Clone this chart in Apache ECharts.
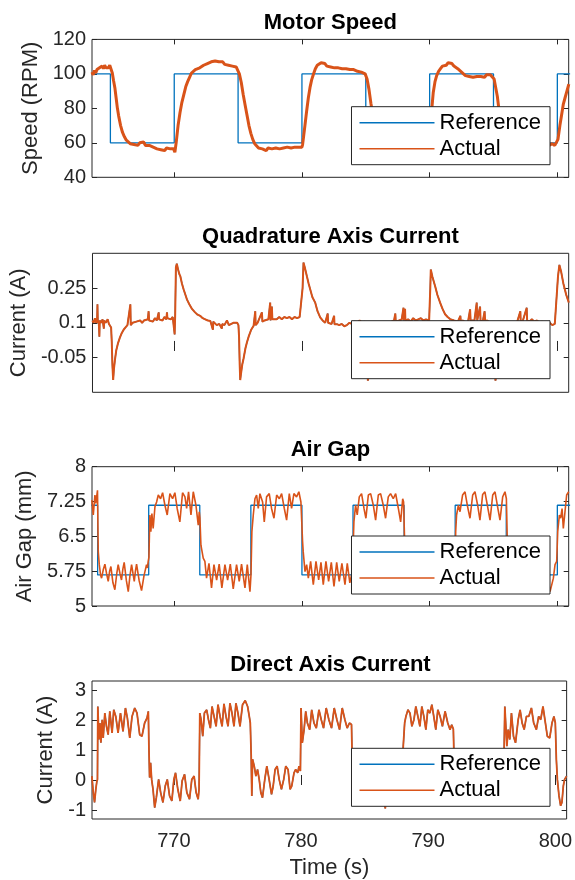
<!DOCTYPE html>
<html><head><meta charset="utf-8">
<script src="https://cdn.jsdelivr.net/npm/echarts@6/dist/echarts.min.js"></script>
<style>html,body{margin:0;padding:0;background:#fff}#c{width:575px;height:880px}</style>
</head><body><div id="c"></div>
<script>
// ---------- tick labels ----------
const timeTicks = [770, 780, 790, 800];
const speedTicks = [40, 60, 80, 100, 120];
const qTicks = [-0.05, 0.1, 0.25];
const gapTicks = [5, 5.75, 6.5, 7.25, 8];
const dTicks = [-1, 0, 1, 2, 3];
const seriesNames = ['Reference', 'Actual'];
const panelTitles = ['Motor Speed', 'Quadrature Axis Current', 'Air Gap', 'Direct Axis Current'];
const yNames = ['Speed (RPM)', 'Current (A)', 'Air Gap (mm)', 'Current (A)'];

// ---------- Motor speed ----------
const speedRefTimes = [763.5, 765, 770, 775, 780, 785, 790, 795, 800, 801];
const speedRefLevels = [100, 60, 100, 60, 100, 60, 100, 60, 100, 100];
const speedActual = [
[763.55,101],[763.65,99.5],[763.75,102],[763.85,100.5],[763.95,102.5],[764.05,101.5],[764.15,103.5],[764.25,102.5],[764.35,104.5],[764.45,103],[764.55,105],[764.65,103.5],[764.75,104.5],[764.85,103.5],[764.95,105],[765.05,104],
[765.15,100.5],[765.25,96],[765.35,92],[765.45,86],[765.55,80],[765.65,75.5],[765.8,70],[765.95,66],[766.1,63.5],[766.25,61.5],[766.4,60.5],[766.55,59.5],[766.7,60.5],[766.85,59],[767.0,60],[767.15,58.5],[767.3,60],[767.45,59],[767.6,60.5],[767.75,58.5],[767.9,59.5],[768.05,58.5],[768.2,59],[768.35,57.5],[768.5,58.5],[768.65,56.5],[768.8,57.5],[768.95,56],[769.1,57],[769.25,55.5],[769.4,57],[769.55,56],[769.7,56.5],[769.85,55.5],[769.95,56.5],[770.05,54.5],
[770.15,60],[770.3,70],[770.45,77.5],[770.6,83.5],[770.75,88],[770.9,92.5],[771.05,95.5],[771.2,98],[771.35,100.5],[771.5,101],[771.65,102.5],[771.8,102],[772.0,103.5],[772.15,103],[772.3,105],[772.45,104.5],[772.6,106],[772.75,105.5],[772.9,107],[773.05,106],[773.2,107.5],[773.35,106.5],[773.5,107],[773.65,106],[773.8,107],[773.95,105.5],[774.1,106.5],[774.25,105],[774.4,106],[774.55,104.5],[774.7,105.5],[774.85,104],[774.95,104.5],
[775.1,100],[775.25,95],[775.4,88],[775.55,82],[775.7,76],[775.85,70],[776.0,65.5],[776.15,62],[776.3,59.5],[776.45,58.5],[776.6,57],[776.75,58],[776.9,56.5],[777.05,57.5],[777.2,55.5],[777.35,57],[777.5,56],[777.65,56.5],[777.8,55.5],[777.95,57],[778.1,56],[778.25,56.5],[778.4,55.5],[778.55,57],[778.7,56],[778.85,57.5],[779.0,56.5],[779.15,57],[779.3,56],[779.45,57.5],[779.6,56.5],[779.75,57.5],[779.9,56.5],[780.0,57.5],
[780.05,59],[780.12,63],[780.25,71],[780.37,78.5],[780.5,86],[780.63,92],[780.76,96.5],[780.9,99.8],[781.05,103],[781.2,105],[781.35,104.5],[781.5,106.5],[781.65,105.5],[781.8,106],[781.95,104.5],[782.1,105.5],[782.25,104],[782.4,105],[782.55,103.5],[782.7,104.5],[782.85,103.5],[783.0,104.5],[783.15,103],[783.3,104],[783.45,103],[783.6,104],[783.75,102.5],[783.9,103.5],[784.05,102.5],[784.2,103],[784.35,101.5],[784.5,102.5],[784.65,101],[784.8,101.5],[784.95,100],
[785.1,97],[785.25,91],[785.4,83],[785.55,76],[785.7,70],[785.85,65],[786.0,62],[786.2,59.5],[786.4,58],[786.6,57],[786.8,57.5],[787.0,56.5],[787.2,57.5],[787.4,56.5],[787.6,57],[787.8,56],[788.0,57],[788.2,56],[788.4,57],[788.6,56.5],[788.8,57.5],[789.0,56.5],[789.2,57],[789.4,56],[789.6,57],[789.8,56.5],[789.95,57.5],
[790.06,66],[790.15,78],[790.28,89],[790.42,95.5],[790.55,99],[790.7,101.5],[790.85,103],[791.0,104.5],[791.15,105.5],[791.3,105],[791.45,106.5],[791.6,105.5],[791.75,106],[791.9,104.5],[792.05,104.5],[792.2,103],[792.35,102],[792.5,101],[792.65,100.5],[792.8,99],[792.95,100],[793.1,98.5],[793.25,99.5],[793.4,98],[793.55,99],[793.7,98.5],[793.85,99.5],[794.0,98.5],[794.15,99.5],[794.3,98],[794.45,99.5],[794.6,98.5],[794.75,99.5],[794.9,98.5],
[795.05,97],[795.15,93],[795.3,87],[795.4,81],[795.55,74],[795.7,68],[795.9,63.5],[796.1,61],[796.35,59.5],[796.6,60],[796.85,58.5],[797.1,59.5],[797.35,58.5],[797.6,59.5],[797.85,58.5],[798.1,59.5],[798.35,58.5],[798.6,59.5],[798.85,58.5],[799.1,59.5],[799.35,58.5],[799.6,59.5],[799.8,58.5],[799.95,59.5],
[800.05,62],[800.2,70],[800.33,76],[800.47,82.5],[800.6,86],[800.75,90],[800.9,94]
];

// ---------- Quadrature axis current ----------
const qActual = [
[763.55,0.11],[763.65,0.1],[763.75,0.12],[763.85,0.1],[763.92,0.11],[763.95,0.18],[763.98,0.1],[764.05,0.11],[764.1,0.04],[764.13,0.11],[764.25,0.1],[764.35,0.115],[764.45,0.075],[764.48,0.11],[764.6,0.1],[764.75,0.115],[764.85,0.095],[764.95,0.1],[765.02,0.08],[765.07,0.02],[765.12,-0.08],[765.18,-0.147],[765.24,-0.1],[765.32,-0.06],[765.42,-0.02],[765.55,0.01],[765.7,0.035],[765.85,0.055],[766.0,0.07],[766.15,0.08],[766.3,0.09],[766.45,0.09],[766.53,0.18],[766.56,0.09],[766.7,0.1],[766.85,0.095],[767.0,0.105],[767.15,0.1],[767.3,0.11],[767.45,0.1],[767.6,0.11],[767.75,0.105],[767.9,0.115],[767.96,0.15],[768.0,0.11],[768.15,0.115],[768.3,0.105],[768.45,0.12],[768.6,0.11],[768.75,0.145],[768.78,0.115],[768.9,0.12],[769.05,0.11],[769.2,0.125],[769.35,0.115],[769.4,0.145],[769.43,0.12],[769.55,0.125],[769.7,0.115],[769.85,0.125],[769.95,0.12],
[770.0,0.05],[770.04,0.13],[770.1,0.34],[770.17,0.355],[770.27,0.33],[770.37,0.31],[770.45,0.3],[770.57,0.27],[770.7,0.245],[770.85,0.22],[770.97,0.2],[771.15,0.18],[771.36,0.16],[771.6,0.145],[771.8,0.135],[772.0,0.13],[772.2,0.12],[772.4,0.115],[772.6,0.11],[772.8,0.108],[773.0,0.07],[773.03,0.105],[773.3,0.09],[773.5,0.095],[773.7,0.075],[773.73,0.095],[773.9,0.09],[774.1,0.11],[774.25,0.09],[774.4,0.094],[774.6,0.1],[774.75,0.095],[774.9,0.1],
[775.0,0.09],[775.05,0.04],[775.1,-0.08],[775.14,-0.147],[775.2,-0.12],[775.3,-0.08],[775.4,-0.055],[775.55,-0.01],[775.67,0.016],[775.8,0.04],[776.0,0.07],[776.19,0.087],[776.3,0.09],[776.32,0.15],[776.35,0.09],[776.5,0.1],[776.65,0.095],[776.84,0.145],[776.88,0.105],[777.05,0.11],[777.2,0.105],[777.35,0.115],[777.49,0.187],[777.52,0.11],[777.62,0.17],[777.66,0.115],[777.8,0.12],[778.0,0.115],[778.2,0.125],[778.4,0.115],[778.6,0.125],[778.8,0.12],[779.0,0.125],[779.2,0.115],[779.4,0.125],[779.6,0.12],[779.8,0.125],[779.95,0.12],
[780.03,0.25],[780.1,0.36],[780.2,0.34],[780.37,0.3],[780.5,0.27],[780.63,0.244],[780.8,0.21],[781.02,0.187],[781.2,0.15],[781.41,0.123],[781.6,0.11],[781.8,0.1],[782.0,0.14],[782.03,0.1],[782.3,0.095],[782.5,0.13],[782.53,0.094],[782.72,0.094],[782.9,0.09],[783.1,0.095],[783.3,0.085],[783.5,0.09],[783.7,0.1],[783.9,0.095],[784.1,0.105],[784.3,0.1],[784.5,0.11],[784.7,0.1],[784.9,0.105],
[785.0,0.09],[785.05,0.04],[785.1,-0.08],[785.15,-0.15],[785.22,-0.12],[785.33,-0.08],[785.45,-0.04],[785.65,0.01],[785.85,0.04],[786.1,0.07],[786.4,0.085],[786.6,0.09],[786.8,0.1],[787.0,0.105],[787.2,0.11],[787.3,0.14],[787.33,0.105],[787.6,0.11],[787.8,0.115],[787.94,0.165],[787.97,0.11],[788.06,0.16],[788.09,0.11],[788.3,0.115],[788.5,0.105],[788.7,0.12],[788.9,0.11],[789.1,0.115],[789.3,0.12],[789.5,0.11],[789.7,0.115],[789.95,0.11],
[790.04,0.25],[790.08,0.33],[790.2,0.3],[790.42,0.258],[790.6,0.22],[790.81,0.187],[791.0,0.16],[791.2,0.137],[791.4,0.125],[791.59,0.116],[791.9,0.11],[792.2,0.105],[792.4,0.13],[792.43,0.105],[792.6,0.11],[792.8,0.1],[793.0,0.105],[793.16,0.158],[793.2,0.11],[793.5,0.11],[793.68,0.187],[793.72,0.11],[793.94,0.17],[793.98,0.11],[794.15,0.105],[794.3,0.15],[794.34,0.105],[794.5,0.11],[794.7,0.1],[794.95,0.1],
[795.05,0.04],[795.1,-0.08],[795.15,-0.15],[795.22,-0.12],[795.33,-0.08],[795.45,-0.04],[795.65,0.01],[795.85,0.045],[796.1,0.07],[796.4,0.085],[796.8,0.095],[797.1,0.15],[797.13,0.1],[797.3,0.11],[797.6,0.165],[797.63,0.11],[797.8,0.105],[798.0,0.115],[798.2,0.105],[798.4,0.11],[798.6,0.1],[798.8,0.105],[799.0,0.1],[799.2,0.095],[799.4,0.1],[799.6,0.09],[799.8,0.095],[799.95,0.1],
[800.05,0.3],[800.16,0.35],[800.3,0.32],[800.47,0.27],[800.7,0.22],[800.9,0.187]
];
const qReference = qActual;

// ---------- Air gap ----------
const gapRefTimes = [763.5, 764, 768, 772, 776, 780, 784, 788, 792, 796, 800, 801];
const gapRefLevels = [7.17, 5.67, 7.17, 5.67, 7.17, 5.67, 7.17, 5.67, 7.17, 5.67, 7.17, 7.17];
const gapActual = [
[763.55,7.28],[763.66,6.96],[763.79,7.39],[763.86,7.21],[763.99,7.49],[764.05,6.17],[764.13,5.89],[764.23,5.67],[764.31,5.6],[764.44,5.78],[764.57,5.9],[764.7,5.7],[764.83,5.53],[764.94,5.75],[765.04,5.85],[765.2,5.5],[765.35,5.35],[765.5,5.7],[765.61,5.89],[765.75,5.7],[765.87,5.56],[765.98,5.8],[766.08,5.94],[766.25,5.55],[766.4,5.31],[766.53,5.65],[766.66,5.89],[766.77,5.7],[766.87,5.53],[766.96,5.75],[767.05,5.9],[767.25,5.55],[767.44,5.33],[767.63,5.65],[767.83,5.89],[767.9,5.82],[767.96,5.96],[768.02,6.05],
[768.09,6.96],[768.17,6.6],[768.25,6.99],[768.35,6.67],[768.49,7.14],[768.62,7.24],[768.75,7.39],[768.93,7.31],[769.09,7.44],[769.27,7.17],[769.45,6.96],[769.66,7.42],[769.87,7.31],[770.05,7.44],[770.23,7.1],[770.44,6.81],[770.65,7.44],[770.84,7.35],[770.97,7.1],[771.12,7.46],[771.31,6.96],[771.49,7.46],[771.7,7.17],[771.88,6.74],[771.96,7.03],[772.01,6.9],
[772.09,6.31],[772.27,6.03],[772.4,5.96],[772.53,5.6],[772.72,5.92],[772.92,5.39],[773.11,5.89],[773.32,5.56],[773.52,5.9],[773.73,5.39],[773.97,5.89],[774.18,5.56],[774.39,5.9],[774.62,5.37],[774.88,5.89],[775.09,5.53],[775.27,5.9],[775.54,5.39],[775.72,5.89],[775.93,5.31],[776.01,5.67],
[776.08,6.6],[776.19,6.96],[776.32,7.31],[776.45,7.39],[776.58,7.1],[776.71,7.42],[776.92,7.24],[777.05,6.81],[777.23,7.35],[777.44,7.42],[777.62,7.1],[777.81,6.89],[778.02,7.39],[778.23,7.31],[778.41,7.42],[778.62,7.1],[778.8,6.85],[779.01,7.42],[779.19,7.1],[779.37,7.42],[779.58,7.35],[779.76,7.46],[779.92,7.24],
[780.05,6.39],[780.1,6.17],[780.24,5.74],[780.37,5.89],[780.5,5.6],[780.68,5.96],[780.89,5.46],[781.1,5.96],[781.31,5.56],[781.49,5.94],[781.67,5.46],[781.88,5.96],[782.09,5.53],[782.3,5.94],[782.51,5.42],[782.72,5.94],[782.92,5.53],[783.13,5.92],[783.37,5.46],[783.55,5.92],[783.75,5.5],[783.95,5.75],
[784.07,6.81],[784.2,7.17],[784.33,6.96],[784.49,7.35],[784.67,7.42],[784.86,7.1],[785.01,6.89],[785.2,7.39],[785.38,7.42],[785.59,7.17],[785.77,6.85],[785.98,7.39],[786.16,7.42],[786.37,7.17],[786.55,6.89],[786.76,7.35],[786.94,7.42],[787.15,7.31],[787.34,7.42],[787.55,7.1],[787.73,6.81],[787.89,7.31],[787.96,7.24],
[788.05,6.3],[788.15,5.85],[788.3,5.55],[788.5,5.92],[788.7,5.4],[788.9,5.92],[789.1,5.5],[789.3,5.92],[789.5,5.4],[789.7,5.92],[789.9,5.5],[790.1,5.92],[790.3,5.4],[790.5,5.92],[790.7,5.5],[790.9,5.92],[791.1,5.4],[791.3,5.92],[791.5,5.5],[791.7,5.92],[791.9,5.4],[791.98,5.7],
[792.04,6.6],[792.11,6.96],[792.25,7.17],[792.38,7.03],[792.58,7.39],[792.77,7.46],[792.95,7.17],[793.16,6.89],[793.37,7.39],[793.55,7.46],[793.76,7.17],[793.94,6.85],[794.15,7.4],[794.33,7.46],[794.52,7.17],[794.73,6.85],[794.94,7.39],[795.12,7.46],[795.3,7.17],[795.51,6.85],[795.72,7.35],[795.9,7.46],[796.01,7.31],
[796.1,6.2],[796.2,5.8],[796.35,5.5],[796.55,5.92],[796.75,5.4],[796.95,5.92],[797.15,5.5],[797.35,5.92],[797.55,5.4],[797.75,5.92],[797.95,5.5],[798.15,5.92],[798.35,5.4],[798.55,5.92],[798.75,5.5],[798.95,5.92],[799.2,5.7],[799.43,5.31],[799.69,5.6],[799.82,5.89],[799.95,5.96],
[800.03,6.6],[800.16,6.96],[800.26,6.89],[800.37,7.1],[800.47,6.67],[800.6,7.03],[800.73,7.39],[800.89,7.46]
];

// ---------- Direct axis current ----------
const dActual = [
[763.55,0.13],[763.66,-0.42],[763.76,-0.75],[763.86,-0.31],[763.94,-0.05],[763.99,0.02],[764.02,2.45],[764.1,1.35],[764.18,1.9],[764.26,1.24],[764.36,2.01],[764.44,1.4],[764.57,2.23],[764.7,1.79],[764.83,1.51],[764.96,2.29],[765.14,1.57],[765.27,2.34],[765.43,2.12],[765.61,1.57],[765.8,2.23],[766.0,1.62],[766.19,2.4],[766.34,2.07],[766.53,1.4],[766.71,2.12],[766.92,2.4],[767.1,2.23],[767.31,1.51],[767.49,1.46],[767.7,1.9],[767.89,2.07],[767.99,2.29],
[768.04,1.02],[768.09,0.08],[768.17,0.57],[768.25,0.02],[768.36,-0.31],[768.49,-0.92],[768.62,-0.59],[768.8,0.02],[768.96,-0.42],[769.14,-0.75],[769.32,-0.2],[769.48,0.02],[769.66,-0.53],[769.84,-0.7],[770.0,0.02],[770.13,0.24],[770.31,-0.31],[770.5,-0.7],[770.65,-0.03],[770.84,0.19],[771.02,-0.42],[771.23,-0.64],[771.41,0.02],[771.59,0.13],[771.75,-0.42],[771.91,-0.64],[771.98,-0.3],
[772.04,2.23],[772.14,2.01],[772.27,1.46],[772.4,2.23],[772.58,2.34],[772.72,2.01],[772.87,1.73],[773.0,2.45],[773.16,2.12],[773.32,1.79],[773.47,2.51],[773.63,2.12],[773.79,1.79],[773.94,2.54],[774.1,2.12],[774.26,1.79],[774.41,2.56],[774.57,2.23],[774.73,1.79],[774.88,2.56],[775.04,2.23],[775.2,1.79],[775.4,2.51],[775.61,2.65],[775.8,2.45],[775.93,2.12],[776.01,1.9],
[776.08,0.8],[776.13,-0.53],[776.19,0.69],[776.32,0.46],[776.45,0.13],[776.58,0.35],[776.71,0.02],[776.84,-0.42],[776.97,-0.59],[777.15,0.02],[777.31,0.46],[777.49,0.02],[777.68,-0.48],[777.81,-0.2],[777.96,0.35],[778.12,0.46],[778.28,0.02],[778.46,-0.31],[778.64,0.02],[778.8,0.46],[778.98,0.35],[779.14,-0.31],[779.27,-0.2],[779.45,0.24],[779.58,0.35],[779.74,0.24],[779.84,0.46],[779.95,0.3],
[780.0,2.4],[780.1,1.24],[780.24,1.68],[780.37,2.29],[780.5,1.9],[780.68,1.68],[780.84,2.34],[781.02,1.9],[781.2,1.73],[781.41,2.34],[781.59,2.01],[781.77,1.73],[781.98,2.4],[782.19,2.01],[782.4,1.73],[782.61,2.4],[782.82,2.01],[783.03,1.68],[783.24,2.4],[783.45,2.01],[783.63,1.73],[783.81,1.9],[783.97,1.85],
[784.02,0.8],[784.08,-0.5],[784.15,0.6],[784.3,0.3],[784.5,0.0],[784.7,-0.45],[784.85,-0.6],[785.05,0.05],[785.25,0.45],[785.45,0.0],[785.6,-0.5],[785.8,0.3],[786.0,0.45],[786.2,0.0],[786.4,-0.4],[786.63,-0.95],[786.8,0.0],[787.0,0.4],[787.2,0.3],[787.4,-0.3],[787.6,0.2],[787.8,0.4],[787.95,0.3],
[788.04,1.13],[788.15,1.9],[788.25,2.12],[788.41,2.34],[788.57,2.23],[788.72,1.79],[788.88,2.01],[789.03,2.45],[789.19,2.12],[789.35,1.79],[789.5,2.45],[789.66,2.12],[789.82,1.68],[789.97,2.34],[790.13,2.23],[790.29,2.51],[790.44,2.12],[790.6,1.68],[790.76,2.34],[790.94,2.12],[791.12,1.79],[791.33,2.29],[791.54,1.9],[791.72,1.68],[791.85,1.84],[791.98,1.7],
[792.03,0.8],[792.1,-0.4],[792.2,0.5],[792.4,0.2],[792.6,-0.3],[792.8,-0.6],[793.0,0.0],[793.2,0.45],[793.4,0.0],[793.6,-0.5],[793.8,0.2],[794.0,0.45],[794.2,0.0],[794.4,-0.45],[794.6,0.1],[794.8,0.45],[795.0,0.3],[795.2,-0.3],[795.4,0.1],[795.6,0.4],[795.8,0.3],[795.95,0.45],
[796.03,2.45],[796.19,1.13],[796.29,1.68],[796.42,1.35],[796.55,2.23],[796.71,1.46],[796.87,1.24],[797.08,2.01],[797.23,2.34],[797.39,1.9],[797.55,1.68],[797.73,2.12],[797.91,2.12],[798.12,2.4],[798.3,1.9],[798.51,1.68],[798.69,2.12],[798.85,2.01],[799.03,2.45],[799.22,1.9],[799.37,1.46],[799.56,1.4],[799.74,1.9],[799.89,2.12],[800.0,1.9],
[800.08,0.69],[800.16,0.02],[800.29,-0.53],[800.42,-0.86],[800.52,-0.75],[800.63,-0.2],[800.73,0.02],[800.89,0.13]
];
const dReference = dActual;

// ---------- build chart ----------
function pairs(ts, vs) { return ts.map((t, i) => [t, vs[i]]); }
const FONT = '"Liberation Sans", Arial, Helvetica, sans-serif';
const AX = '#262626';
const BLUE = '#0072BD', ORANGE = '#D95319';
const X_MIN = 763.56, X_MAX = 800.89;

const panels = [
  { top: 39.4, h: 137.9, ymin: 40, ymax: 120, ticks: speedTicks, ref: pairs(speedRefTimes, speedRefLevels), step: 'end', act: speedActual, actW: 3, nameGap: 43, legTop: 106.7 },
  { top: 253.3, h: 139, ymin: -0.2, ymax: 0.4, ticks: qTicks, ref: qReference, step: false, act: qActual, actW: 2, nameGap: 55, legTop: 320.7 },
  { top: 466.7, h: 139.3, ymin: 5, ymax: 8, ticks: gapTicks, ref: pairs(gapRefTimes, gapRefLevels), step: 'end', act: gapActual, actW: 1.6, nameGap: 46, legTop: 536 },
  { top: 681, h: 138.3, ymin: -1.3, ymax: 3.3, ticks: dTicks, ref: dReference, step: false, act: dActual, actW: 1.8, nameGap: 23, legTop: 748.3 }
];

const option = { animation: false, backgroundColor: '#fff', title: [], grid: [], xAxis: [], yAxis: [], legend: [], series: [] };
const tickStyle = { show: true, inside: true, length: 5, lineStyle: { color: AX, width: 1 } };

panels.forEach((p, i) => {
  const last = i === 3;
  option.grid.push({ left: 92, width: 476.7, top: p.top, height: p.h, show: true, borderColor: AX, borderWidth: 1, backgroundColor: 'transparent' });
  option.title.push({ text: panelTitles[i], left: 330.4, top: p.top - 16.5, textAlign: 'center', textVerticalAlign: 'middle', padding: 0,
    textStyle: { fontFamily: FONT, fontSize: 22, fontWeight: 'bold', color: '#000' } });
  option.xAxis.push({ type: 'value', gridIndex: i, min: X_MIN, max: X_MAX, position: 'bottom',
    axisLine: { show: false }, splitLine: { show: false },
    axisTick: Object.assign({ customValues: timeTicks }, tickStyle),
    axisLabel: { show: last, customValues: timeTicks, margin: 12, fontSize: 20, color: AX, fontFamily: FONT },
    name: last ? 'Time (s)' : '', nameLocation: 'middle', nameGap: 38,
    nameTextStyle: { fontSize: 22, color: AX, fontFamily: FONT } });
  option.xAxis.push({ type: 'value', gridIndex: i, min: X_MIN, max: X_MAX, position: 'top',
    axisLine: { show: false }, splitLine: { show: false },
    axisTick: Object.assign({ customValues: timeTicks }, tickStyle), axisLabel: { show: false } });
  option.yAxis.push({ type: 'value', gridIndex: i, min: p.ymin, max: p.ymax, position: 'left',
    axisLine: { show: false }, splitLine: { show: false },
    axisTick: Object.assign({ customValues: p.ticks }, tickStyle),
    axisLabel: { customValues: p.ticks, margin: 6, fontSize: 20, color: AX, fontFamily: FONT, formatter: v => String(v) },
    name: yNames[i], nameLocation: 'middle', nameGap: p.nameGap,
    nameTextStyle: { fontSize: 22, color: AX, fontFamily: FONT } });
  option.yAxis.push({ type: 'value', gridIndex: i, min: p.ymin, max: p.ymax, position: 'right',
    axisLine: { show: false }, splitLine: { show: false },
    axisTick: Object.assign({ customValues: p.ticks }, tickStyle), axisLabel: { show: false } });
  option.legend.push({ data: seriesNames, orient: 'vertical', right: 25, top: p.legTop,
    backgroundColor: '#fff', borderColor: AX, borderWidth: 1, padding: [3, 9, 3, 8], itemGap: 0,
    icon: 'rect', itemWidth: 75, itemHeight: 1.5,
    textStyle: { fontSize: 22, color: '#000', fontFamily: FONT, lineHeight: 26 } });
  option.series.push({ name: seriesNames[0], type: 'line', xAxisIndex: 2 * i, yAxisIndex: 2 * i, data: p.ref, step: p.step,
    symbol: 'none', lineStyle: { color: BLUE, width: 1.3 }, itemStyle: { color: BLUE }, z: 2 });
  option.series.push({ name: seriesNames[1], type: 'line', xAxisIndex: 2 * i, yAxisIndex: 2 * i, data: p.act,
    symbol: 'none', lineStyle: { color: ORANGE, width: p.actW }, itemStyle: { color: ORANGE }, z: 3 });
});

const chart = echarts.init(document.getElementById('c'), null, { renderer: 'canvas' });
chart.setOption(option);
</script>
</body></html>
